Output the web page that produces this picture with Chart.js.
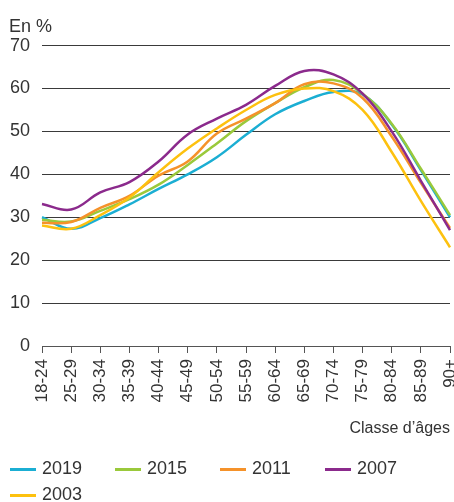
<!DOCTYPE html>
<html>
<head>
<meta charset="utf-8">
<script src="https://cdn.jsdelivr.net/npm/chart.js@4/dist/chart.umd.min.js"></script>
<style>
  body { margin: 0; background: #fff; }
  #wrap { position: relative; width: 454px; height: 502px; }
  #legend {
    position: absolute; left: 10px; top: 456px; width: 440px;
    display: flex; flex-wrap: wrap;
    font-family: "Liberation Sans", Arial, sans-serif; font-size: 18px; color: #333;
  }
  .item { width: 105px; height: 26px; line-height: 24px; white-space: nowrap; }
  .item span.swatch { display: inline-block; width: 26px; height: 3px; margin-right: 6px; vertical-align: middle; }
</style>
</head>
<body>
<div id="wrap">
  <canvas id="chart" width="454" height="502"></canvas>
  <div id="legend"></div>
</div>
<script>
// catégories et séries
const ageClasses = ['18-24', '25-29', '30-34', '35-39', '40-44', '45-49', '50-54', '55-59',
  '60-64', '65-69', '70-74', '75-79', '80-84', '85-89', '90+'];
const years = ['2019', '2015', '2011', '2007', '2003'];
const values2019 = [30, 27.3, 29.8, 33, 36.6, 40, 44, 49.2, 54, 57.1, 59.2, 58.6, 51.6, 41, 30];
const values2015 = [29.4, 29, 31.5, 34.2, 37.6, 42.2, 47.2, 52.4, 56.6, 60.3, 62, 58.8, 51.8, 41.3, 30.5];
const values2011 = [28.7, 28.9, 32.2, 35, 39.7, 43, 49.5, 53, 56.6, 61, 61.2, 57.8, 48.8, 38, 27.5];
const values2007 = [33.1, 31.8, 35.8, 38.2, 43, 49.3, 53, 56.2, 60.6, 64.1, 63.3, 58.8, 50, 38.5, 27];
const values2003 = [28.1, 27.3, 30.5, 34.6, 40.5, 46, 50.7, 55, 58.5, 60, 59.4, 55, 45.2, 33.8, 23];
const yTicks = [0, 10, 20, 30, 40, 50, 60, 70];

const seriesValues = [values2019, values2015, values2011, values2007, values2003];
const colors = ['#1BAED3', '#9AC93B', '#F5922A', '#8B2A8C', '#FDC10F'];

const font = "'Liberation Sans', Arial, sans-serif";
const textColor = '#333';

const datasets = years.map((y, i) => ({
  label: y,
  data: seriesValues[i],
  borderColor: colors[i],
  backgroundColor: colors[i],
  borderWidth: 2.5,
  pointRadius: 0,
  tension: 0.4,
  order: years.length - i
}));

new Chart(document.getElementById('chart').getContext('2d'), {
  type: 'line',
  data: { labels: ageClasses, datasets: datasets },
  options: {
    responsive: false,
    animation: false,
    layout: { padding: { left: 9, right: 0, top: 0, bottom: 61 } },
    plugins: {
      legend: { display: false },
      tooltip: { enabled: false },
      title: {
        display: true,
        text: 'En %',
        align: 'start',
        color: textColor,
        font: { family: font, size: 18, weight: 'normal' },
        padding: { top: 16, bottom: 8 }
      }
    },
    scales: {
      x: {
        grid: { drawOnChartArea: false, tickLength: 7, color: '#555' },
        border: { display: true, color: '#555' },
        ticks: {
          autoSkip: false, minRotation: 90, maxRotation: 90, padding: 6,
          color: textColor, font: { family: font, size: 17 }
        },
        title: {
          display: true, text: 'Classe d\u2019âges', align: 'end',
          color: textColor, font: { family: font, size: 16 },
          padding: { top: 0, bottom: 3 }
        },
        afterFit(scale) {
          scale.height = 95;
          scale.paddingRight = 4;
          scale.paddingLeft = 0;
        }
      },
      y: {
        min: 0, max: 70,
        afterBuildTicks(scale) { scale.ticks = yTicks.map(v => ({ value: v })); },
        grid: { drawTicks: false, color: '#3a3a3a', lineWidth: 1 },
        border: { display: false },
        ticks: { padding: 12, color: textColor, font: { family: font, size: 18 } },
        afterFit(scale) { scale.width = 33; }
      }
    }
  }
});

// légende
const legend = document.getElementById('legend');
years.forEach((y, i) => {
  const item = document.createElement('div');
  item.className = 'item';
  const sw = document.createElement('span');
  sw.className = 'swatch';
  sw.style.background = colors[i];
  item.appendChild(sw);
  item.appendChild(document.createTextNode(y));
  legend.appendChild(item);
});
</script>
</body>
</html>
